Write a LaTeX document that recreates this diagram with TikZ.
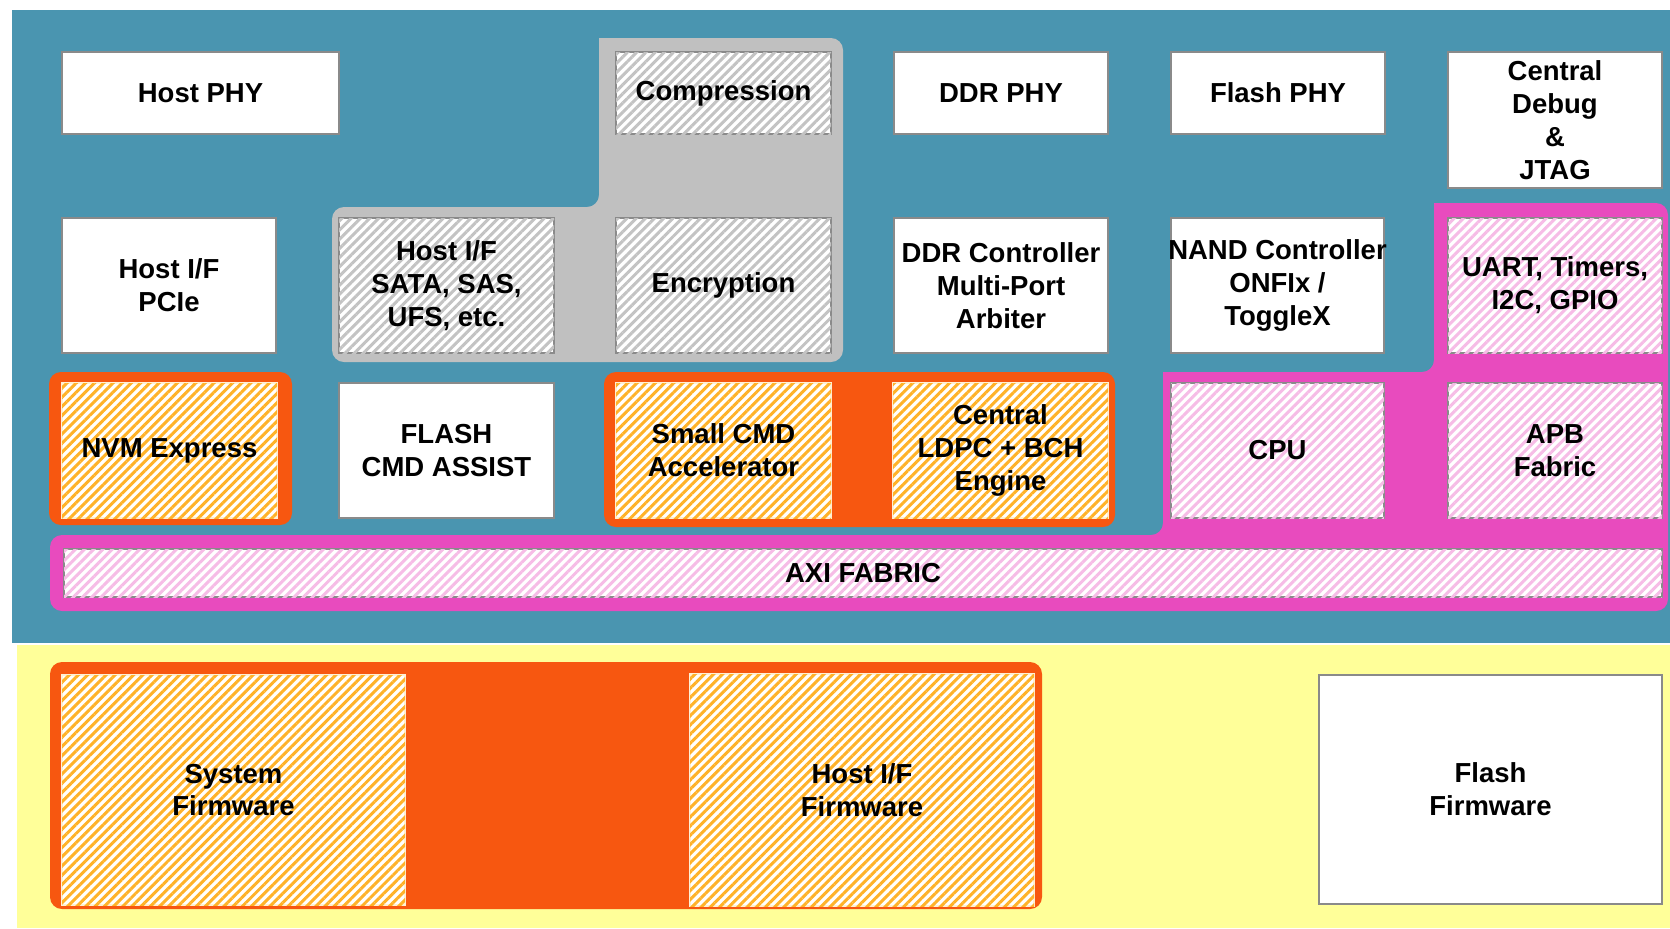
\documentclass[tikz,border=0pt]{standalone}
\usepackage{fontspec}
\setmainfont{Liberation Sans}
\usetikzlibrary{patterns.meta}
\definecolor{tealbg}{RGB}{74,149,176}
\definecolor{yellowbg}{RGB}{255,255,153}
\definecolor{grayreg}{RGB}{192,192,192}
\definecolor{orangereg}{RGB}{247,87,16}
\definecolor{pinkreg}{RGB}{232,75,190}
\definecolor{bordergray}{RGB}{138,138,138}
\definecolor{hatchgray}{RGB}{195,195,195}
\definecolor{hatchorange}{RGB}{255,178,40}
\definecolor{hatchpink}{RGB}{246,188,230}
\newcommand\bx[7]{\node[#1, minimum width={(#5-#3)*0.5pt}, minimum height={(#6-#4)*0.5pt}] (#2) at ({(#3+#5)/2},{(#4+#6)/2}) {#7};}
\begin{document}
\begin{tikzpicture}[x=0.5pt,y=-0.5pt,
  box/.style={draw=bordergray, line width=0.7pt, inner sep=0pt, outer sep=0pt, anchor=center, align=center,
    font=\fontsize{13.75}{16.4}\selectfont\bfseries, text=black},
  plainbox/.style={box, fill=white},
  hatchbox/.style={box, fill=white, postaction={pattern={Lines[angle=45,distance=3.25pt,line width=1.5pt]}, pattern color=#1}},
  graybox/.style={hatchbox=hatchgray},
  orangebox/.style={hatchbox=hatchorange, draw=white!80!hatchorange},
  pinkbox/.style={hatchbox=hatchpink},
  region/.style={rounded corners=6pt}
]
\useasboundingbox (0,0) rectangle (1670,928);
\fill[white] (0,0) rectangle (1670,928);
% backgrounds
\fill[tealbg] (12,10) rectangle (1670,643);
\fill[yellowbg] (17,645) rectangle (1670,928);
% gray region
\fill[grayreg, rounded corners=6pt] (332,362) -- (332,207) -- (599,207) [sharp corners] -- (599,38) [rounded corners=6pt] -- (843,38) -- (843,362) -- cycle;
% orange regions
\fill[orangereg, region] (49,372) rectangle (292,525);
\fill[orangereg, region] (604,372) rectangle (1115,527);
\fill[orangereg, region] (50,662) rectangle (1042,909);
% pink region
\fill[pinkreg, rounded corners=6pt] (50,611) -- (50,535) -- (1163,535) [sharp corners] -- (1163,372) [rounded corners=6pt] -- (1434,372) [sharp corners] -- (1434,203) [rounded corners=6pt] -- (1668,203) -- (1668,611) -- cycle;
% row 1
\bx{plainbox}{hostphy}{62}{52}{339}{134}{Host PHY}
\bx{graybox}{compr}{616}{52}{831}{134}{Compression}
\bx{plainbox}{ddrphy}{894}{52}{1108}{134}{DDR PHY}
\bx{plainbox}{flashphy}{1171}{52}{1385}{134}{Flash PHY}
\bx{plainbox}{debug}{1448}{52}{1662}{188}{Central\\Debug\\\&\\JTAG}
% row 2
\bx{plainbox}{pcie}{62}{218}{276}{353}{Host I/F\\PCIe}
\bx{graybox}{sata}{339}{218}{554}{353}{Host I/F\\SATA, SAS,\\UFS, etc.}
\bx{graybox}{encr}{616}{218}{831}{353}{Encryption}
\bx{plainbox}{ddrctl}{894}{218}{1108}{353}{\makebox[0pt]{DDR Controller}\\Multi-Port\\Arbiter}
\bx{plainbox}{nand}{1171}{218}{1384}{353}{\makebox[0pt]{NAND Controller}\\ONFIx /\\ToggleX}
\bx{pinkbox}{uart}{1448}{218}{1662}{353}{\makebox[0pt]{UART, Timers,}\\I2C, GPIO}
% row 3
\bx{orangebox}{nvme}{62}{383}{277}{518}{NVM Express}
\bx{plainbox}{fcmd}{339}{383}{554}{518}{FLASH\\CMD ASSIST}
\bx{orangebox}{scmd}{616}{383}{831}{518}{Small CMD\\Accelerator}
\bx{orangebox}{ldpc}{893}{383}{1108}{518}{Central\\LDPC + BCH\\Engine}
\bx{pinkbox}{cpu}{1171}{383}{1384}{518}{CPU}
\bx{pinkbox}{apb}{1448}{383}{1662}{518}{APB\\Fabric}
% AXI
\bx{pinkbox}{axi}{64}{549}{1662}{597}{AXI FABRIC}
% firmware
\bx{orangebox}{sysfw}{62}{675}{405}{905}{System\\Firmware}
\bx{orangebox}{hostfw}{690}{674}{1034}{906}{Host I/F\\Firmware}
\bx{plainbox}{flashfw}{1319}{675}{1662}{904}{Flash\\Firmware}
\end{tikzpicture}
\end{document}
